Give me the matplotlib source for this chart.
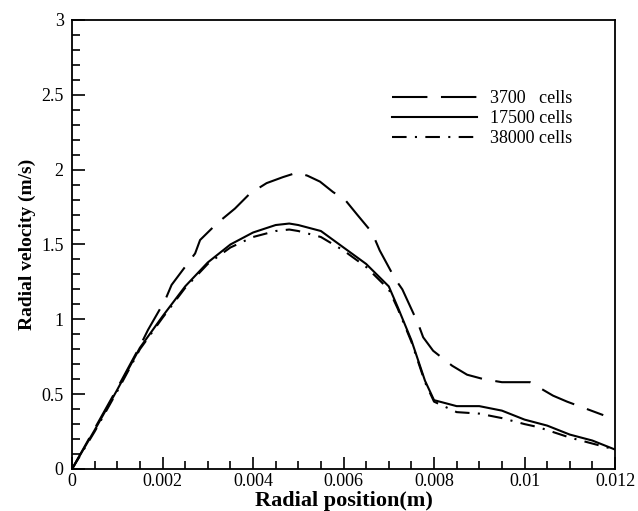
import matplotlib
matplotlib.use("Agg")
import matplotlib.pyplot as plt
from matplotlib.ticker import MultipleLocator, FuncFormatter

# 3700 cells (long dashes)
x_3700 = [0.0, 0.0005, 0.001, 0.0015, 0.00168, 0.00206, 0.0022, 0.00272, 0.00283, 0.0032,
          0.0036, 0.00393, 0.0043, 0.00466, 0.00497, 0.0052, 0.00548, 0.00577, 0.00603,
          0.0063, 0.00663, 0.0068, 0.00714, 0.0073, 0.00765, 0.00776, 0.00798, 0.0084,
          0.00873, 0.0091, 0.0095, 0.01012, 0.01063, 0.01094, 0.01174]
v_3700 = [0.0, 0.27, 0.54, 0.82, 0.93, 1.13, 1.23, 1.44, 1.53, 1.64,
          1.74, 1.84, 1.91, 1.95, 1.98, 1.96, 1.92, 1.85, 1.80,
          1.70, 1.58, 1.46, 1.27, 1.20, 0.97, 0.88, 0.79, 0.69,
          0.63, 0.60, 0.58, 0.58, 0.49, 0.45, 0.36]

# 17500 cells (solid)
x_17500 = [0.0, 0.0005, 0.001, 0.0015, 0.002, 0.0025, 0.003, 0.0035, 0.004, 0.0045, 0.0048,
           0.005, 0.0055, 0.006, 0.0065, 0.007, 0.0072, 0.0075, 0.0078, 0.008, 0.0085,
           0.009, 0.0095, 0.01, 0.0105, 0.011, 0.0115, 0.012]
v_17500 = [0.0, 0.26, 0.53, 0.81, 1.02, 1.22, 1.38, 1.50, 1.58, 1.63, 1.64,
           1.63, 1.59, 1.48, 1.37, 1.22, 1.08, 0.86, 0.59, 0.46, 0.42,
           0.42, 0.39, 0.33, 0.29, 0.23, 0.19, 0.13]

# 38000 cells (dash-dot)
x_38000 = [0.0, 0.0005, 0.001, 0.0015, 0.002, 0.0025, 0.003, 0.0035, 0.004, 0.0045, 0.0048,
           0.005, 0.0055, 0.006, 0.0065, 0.007, 0.0072, 0.0075, 0.0078, 0.008, 0.0085,
           0.009, 0.0095, 0.01, 0.0103, 0.011, 0.0115, 0.012]
v_38000 = [0.0, 0.25, 0.52, 0.80, 1.01, 1.21, 1.37, 1.48, 1.55, 1.59, 1.60,
           1.59, 1.55, 1.46, 1.35, 1.20, 1.07, 0.85, 0.58, 0.45, 0.38,
           0.37, 0.34, 0.30, 0.28, 0.21, 0.17, 0.13]

labels = ["3700   cells", "17500 cells", "38000 cells"]


def fmt(v, pos):
    if v == 0:
        return "0"
    return f"{v:g}"


plt.rcParams.update({
    "font.family": ["Liberation Serif", "DejaVu Serif"],
    "font.size": 13,
})

fig = plt.figure(figsize=(6.38, 5.11), dpi=100)
ax = fig.add_axes([0.1129, 0.0822, 0.8511, 0.8787])

ax.plot(x_3700, v_3700, color="black", lw=1.5, ls=(0, (17, 6.5)), label=labels[0])
ax.plot(x_17500, v_17500, color="black", lw=1.5, ls="-", label=labels[1])
ax.plot(x_38000, v_38000, color="black", lw=1.5, ls=(0, (7, 4, 1, 4)), label=labels[2])

ax.set_xlim(0, 0.012)
ax.set_ylim(0, 3)
ax.xaxis.set_major_locator(MultipleLocator(0.002))
ax.xaxis.set_minor_locator(MultipleLocator(0.0005))
ax.yaxis.set_major_locator(MultipleLocator(0.5))
ax.yaxis.set_minor_locator(MultipleLocator(0.1))
ax.xaxis.set_major_formatter(FuncFormatter(fmt))
ax.yaxis.set_major_formatter(FuncFormatter(fmt))
ax.tick_params(which="both", direction="in", top=False, right=False, width=1.2, labelsize=13)
ax.tick_params(which="major", length=9)
ax.tick_params(which="minor", length=5.5)
ax.tick_params(axis="x", which="major", pad=3)
ax.tick_params(axis="y", which="major", pad=6)
for s in ax.spines.values():
    s.set_linewidth(1.3)

ax.set_xlabel("Radial position(m)", fontsize=16, fontweight="bold", labelpad=0.5)
ax.set_ylabel("Radial velocity (m/s)", fontsize=14, fontweight="bold", labelpad=4)

ax.legend(loc="upper left", bbox_to_anchor=(0.589, 0.843), frameon=False, fontsize=13,
          handlelength=4.7, handletextpad=0.72, labelspacing=0.15, borderpad=0,
          borderaxespad=0)

fig.savefig("out.png", dpi=100)
